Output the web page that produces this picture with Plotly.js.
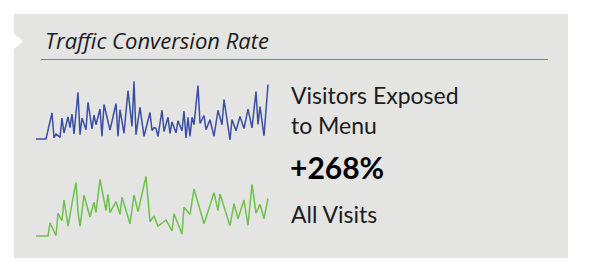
<!DOCTYPE html>
<html>
<head>
<meta charset="utf-8">
<script src="https://cdn.plot.ly/plotly-3.0.1.min.js"></script>
<style>
html,body{margin:0;padding:0;background:#fff;}
#chart{width:598px;height:279px;}
</style>
</head>
<body>
<div id="chart"></div>
<script>
// ---- data ----
const chartTitle = "Traffic Conversion Rate";
const seriesNames = ["Visitors Exposed<br>to Menu", "All Visits"];
const liftLabel = "+268%";

// day index and conversion rate (%) - visitors exposed to menu
const exposedDays = [0,5,8,9,10,11,12,13,14,16,17,18,19,21,22,23,25,26,28,29,30,32,33,34,37,40,41,42,44,46,48,49,50,52,54,57,58,59,60,61,63,64,66,67,68,70,71,73,74,75,76,77,78,79,81,82,84,85,87,89,91,93,94,97,98,100,102,104,106,108,110,111,112,114,116];
const exposedRate = [0.10,0.10,2.70,0.20,0.60,0.40,0.27,2.20,0.70,2.30,
  1.23,2.60,0.60,4.77,0.53,2.20,1.03,3.77,1.12,2.50,
  1.53,3.10,0.37,3.55,1.00,3.64,0.37,3.03,0.67,4.93,
  1.37,5.87,0.53,3.27,0.37,2.75,0.95,1.23,1.17,0.35,
  2.98,0.85,2.27,0.65,1.80,0.72,1.93,0.92,2.88,0.20,
  2.27,0.37,2.27,1.53,5.45,1.65,2.45,1.03,2.03,0.38,
  2.97,1.53,4.05,0.02,2.05,0.92,2.35,1.15,3.08,1.22,
  4.85,1.55,3.35,0.42,5.55];

// day index and conversion rate (%) - all visits
const allDays = [0,6,7,10,11,13,14,16,18,20,21,22,24,27,29,30,32,35,36,37,40,42,43,47,49,51,55,57,59,61,65,68,69,73,74,77,79,84,89,91,92,97,99,101,104,106,108,110,112,114,116];
const allRate = [0.10,0.10,1.43,0.13,2.37,1.63,3.70,1.10,3.37,5.47,
  2.53,1.07,4.17,2.00,3.47,2.47,5.77,2.65,4.27,2.43,
  3.53,2.27,3.97,1.32,4.20,2.53,6.07,1.53,2.10,1.10,
  1.70,0.62,2.32,0.30,2.97,2.25,4.80,1.32,4.43,2.63,
  4.30,1.13,3.33,1.83,3.70,1.17,5.27,2.37,3.27,1.83,
  3.87];

// ---- layout helpers (pixels -> paper) ----
const W = 598, H = 279;
const px = x => x / W;
const py = y => 1 - y / H;
const PX_PER_UNIT = 10; // vertical pixels per 1% rate
const X0 = 34, X1 = 270;  // sparkline horizontal extent
function yDomain(zeroY, lo, hi){ return [py(zeroY - lo*PX_PER_UNIT), py(zeroY - hi*PX_PER_UNIT)]; }

const blue = '#3a4fa2', green = '#6cc24a', ink = '#1c1c1c';
const txtFont = 'Lato, "Open Sans", sans-serif';

const traces = [
  {x: exposedDays, y: exposedRate, type: 'scatter', mode: 'lines', xaxis: 'x', yaxis: 'y',
   line: {color: blue, width: 1.5}, hoverinfo: 'skip'},
  {x: allDays, y: allRate, type: 'scatter', mode: 'lines', xaxis: 'x2', yaxis: 'y2',
   line: {color: green, width: 1.5}, hoverinfo: 'skip'}
];

const hiddenX = {visible: false, range: [-1, 117], domain: [px(X0), px(X1)], fixedrange: true};
const layout = {
  width: W, height: H,
  margin: {l: 0, r: 0, t: 0, b: 0, pad: 0},
  paper_bgcolor: '#ffffff', plot_bgcolor: 'rgba(0,0,0,0)',
  showlegend: false,
  xaxis: Object.assign({}, hiddenX, {anchor: 'y'}),
  xaxis2: Object.assign({}, hiddenX, {anchor: 'y2'}),
  yaxis: {visible: false, range: [-0.5, 6.5], domain: yDomain(140, -0.5, 6.5), anchor: 'x', fixedrange: true},
  yaxis2: {visible: false, range: [-0.5, 6.5], domain: yDomain(237, -0.5, 6.5), anchor: 'x2', fixedrange: true},
  shapes: [
    {type: 'rect', xref: 'paper', yref: 'paper', x0: px(14), x1: px(568), y0: py(258), y1: py(14),
     fillcolor: '#e4e4e3', line: {width: 0}, layer: 'below'},
    {type: 'path', xref: 'paper', yref: 'paper', layer: 'below',
     path: `M ${px(13)} ${py(33)} L ${px(23)} ${py(41.5)} L ${px(13)} ${py(50)} Z`,
     fillcolor: '#ffffff', line: {width: 0}},
    {type: 'line', xref: 'paper', yref: 'paper', x0: px(41), x1: px(548), y0: py(59.5), y1: py(59.5),
     line: {color: '#6f7fb2', width: 1}, layer: 'below'}
  ],
  annotations: [
    {text: chartTitle, xref: 'paper', yref: 'paper', x: px(43), y: py(40.5), xanchor: 'left', yanchor: 'middle',
     showarrow: false, font: {family: '"Open Sans", Lato, sans-serif', size: 22, color: ink, style: 'italic'}},
    {text: seriesNames[0], xref: 'paper', yref: 'paper', x: px(289), y: py(110), xanchor: 'left', yanchor: 'middle',
     align: 'left', showarrow: false, font: {family: txtFont, size: 23, color: ink}},
    {text: '<b>' + liftLabel + '</b>', xref: 'paper', yref: 'paper', x: px(288), y: py(167), xanchor: 'left', yanchor: 'middle',
     showarrow: false, font: {family: txtFont, size: 30, color: '#000000', weight: 700}},
    {text: seriesNames[1], xref: 'paper', yref: 'paper', x: px(289), y: py(214), xanchor: 'left', yanchor: 'middle',
     showarrow: false, font: {family: txtFont, size: 23, color: ink}}
  ]
};

Plotly.newPlot('chart', traces, layout, {staticPlot: true, displayModeBar: false});
</script>
</body>
</html>
